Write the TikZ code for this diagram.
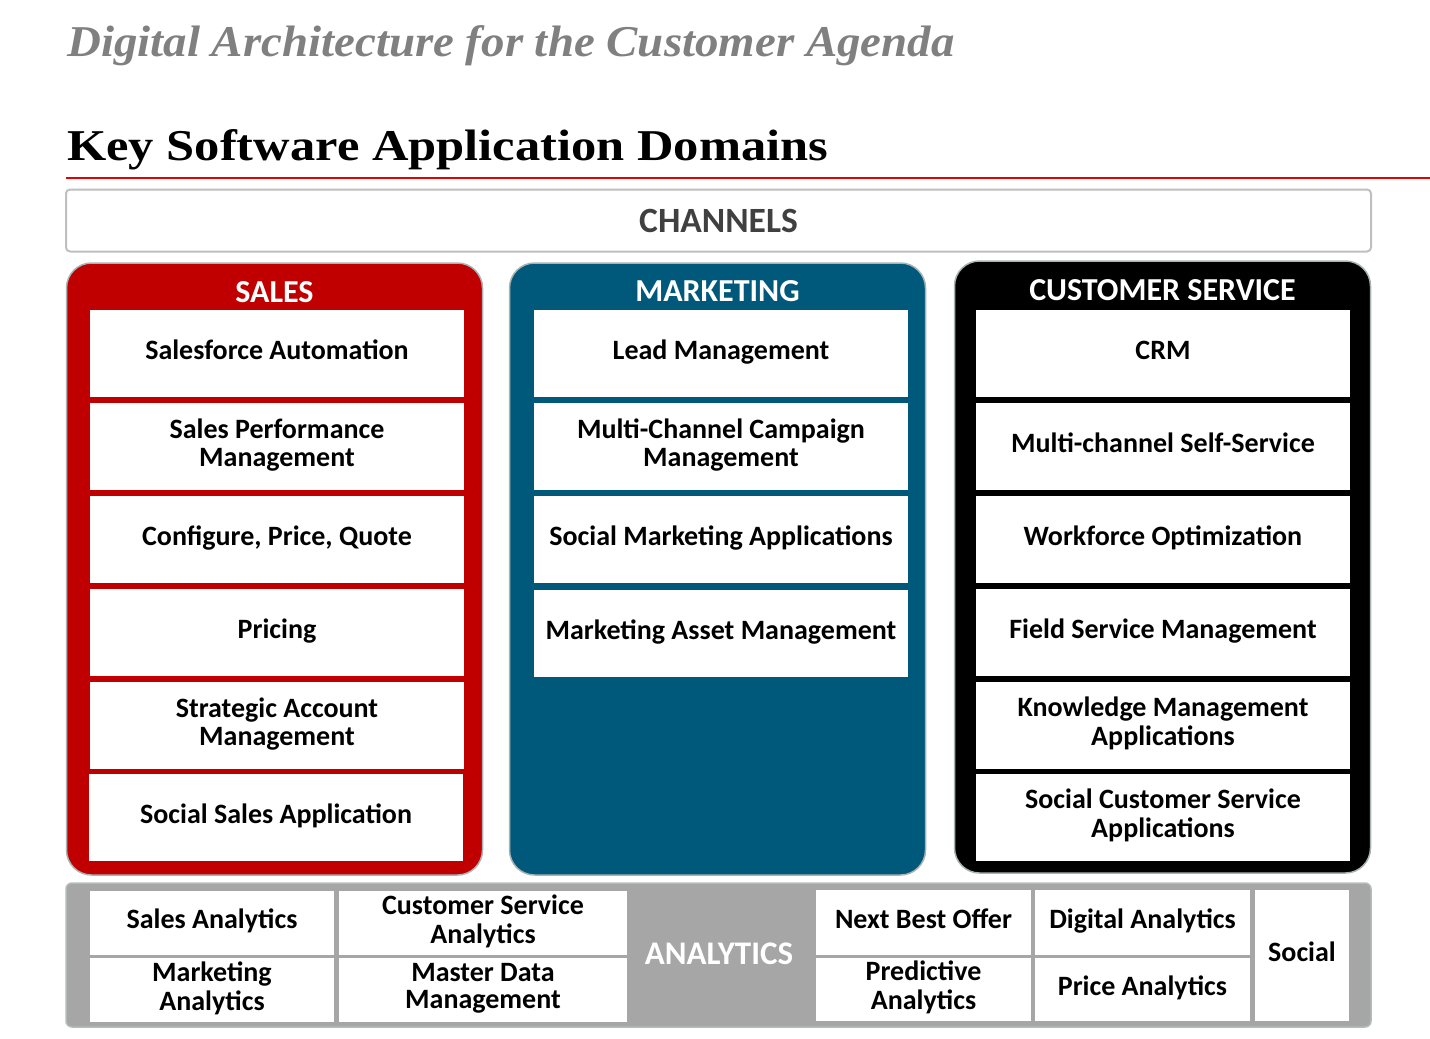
\documentclass[tikz,border=0pt]{standalone}
\usepackage{fontspec}
\setmainfont{Carlito}
\newfontfamily\titleserif{Liberation Serif}
\definecolor{salesred}{HTML}{C00000}
\definecolor{mkteal}{HTML}{00587A}
\definecolor{panelbd}{HTML}{A9B3B3}
\definecolor{anagray}{HTML}{A6A6A6}
\definecolor{anabd}{HTML}{B3BBBB}
\definecolor{chgray}{HTML}{BFBFBF}
\definecolor{titlegray}{HTML}{808080}
\definecolor{chtext}{HTML}{404040}
\definecolor{linered}{HTML}{E80000}
\tikzset{
  panel/.style={draw=panelbd, line width=1.5pt, rounded corners=25pt, minimum width=416pt, minimum height=612pt, inner sep=0pt},
  phead/.style={text=white, font=\fontsize{32}{34}\selectfont\bfseries, inner sep=0pt},
  appbox/.style={fill=white, minimum width=374pt, minimum height=87pt, inner sep=0pt, align=center, font=\fontsize{28}{28}\selectfont\bfseries},
  cell/.style={fill=white, inner sep=0pt, align=center, font=\fontsize{28}{27}\selectfont\bfseries},
}
\begin{document}
\begin{tikzpicture}[x=1pt,y=-1pt]
\useasboundingbox (0,0) rectangle (1430,1039);
% titles
\node[anchor=base west, inner sep=0pt, text=titlegray, font=\titleserif\fontsize{44}{48}\selectfont\bfseries\itshape] (title) at (67,56) {\scalebox{1.066}[1]{Digital Architecture for the Customer Agenda}};
\node[anchor=base west, inner sep=0pt, text=black, font=\titleserif\fontsize{44}{48}\selectfont\bfseries] (subtitle) at (67,160) {\scalebox{1.148}[1]{Key Software Application Domains}};
\coordinate (ruleL) at (66,176.5);
\coordinate (ruleR) at (1430,178.5);
\fill[fill=linered] (ruleL) rectangle (ruleR);
% channels
\node[draw=chgray, line width=2pt, rounded corners=4pt, fill=white, minimum width=1305pt, minimum height=62pt, inner sep=0pt, text=chtext, font=\fontsize{35.5}{38}\selectfont\bfseries] (channels) at (718.5,220.5) {CHANNELS};
% panels
\node[panel, fill=salesred] (sales) at (274.5,569) {};
\node[panel, fill=mkteal] (mkt) at (717.5,569) {};
\node[panel, fill=black] (cs) at (1162.5,567) {};
\node[phead] (salesH) at (274.5,292.5) {SALES};
\node[phead] (mktH) at (717.5,291) {MARKETING};
\node[phead] (csH) at (1162.5,290) {CUSTOMER SERVICE};
% sales boxes
\node[appbox] (s1) at (277,353.5) {\strut Salesforce Automation};
\node[appbox] (s2) at (277,446.5) {\strut Sales Performance\\\strut Management};
\node[appbox] (s3) at (277,539.5) {\strut Configure, Price, Quote};
\node[appbox] (s4) at (277,632.5) {\strut Pricing};
\node[appbox] (s5) at (277,725.5) {\strut Strategic Account\\\strut Management};
\node[appbox] (s6) at (276,817.5) {\strut Social Sales Application};
% marketing boxes
\node[appbox] (m1) at (721,353.5) {\strut Lead Management};
\node[appbox] (m2) at (721,446.5) {\strut Multi-Channel Campaign\\\strut Management};
\node[appbox] (m3) at (721,539.5) {\strut Social Marketing Applications};
\node[appbox] (m4) at (721,633.5) {\strut Marketing Asset Management};
% customer service boxes
\node[appbox] (c1) at (1163,353.5) {\strut CRM};
\node[appbox] (c2) at (1163,446.5) {\strut Multi-channel Self-Service};
\node[appbox] (c3) at (1163,539.5) {\strut Workforce Optimization};
\node[appbox] (c4) at (1163,632.5) {\strut Field Service Management};
\node[appbox] (c5) at (1163,725.5) {\strut Knowledge Management\\\strut Applications};
\node[appbox] (c6) at (1163,817.5) {\strut Social Customer Service\\\strut Applications};
% analytics
\node[draw=anabd, line width=1.5pt, fill=anagray, rounded corners=6pt, minimum width=1305pt, minimum height=144pt, inner sep=0pt] (ana) at (718.5,955) {};
\node[text=white, font=\fontsize{33}{36}\selectfont\bfseries, inner sep=0pt] (anaH) at (719,954) {ANALYTICS};
\node[cell, minimum width=244pt, minimum height=64pt] (sa) at (212,923) {\strut Sales Analytics};
\node[cell, minimum width=288pt, minimum height=64pt] (csa) at (483,923) {\strut Customer Service\\\strut Analytics};
\node[cell, minimum width=244pt, minimum height=64pt] (ma) at (212,990) {\strut Marketing\\\strut Analytics};
\node[cell, minimum width=288pt, minimum height=64pt] (mdm) at (483,990) {\strut Master Data\\\strut Management};
\node[cell, minimum width=215pt, minimum height=65pt] (nbo) at (923.5,922.5) {\strut Next Best Offer};
\node[cell, minimum width=215pt, minimum height=65pt] (da) at (1142.5,922.5) {\strut Digital Analytics};
\node[cell, minimum width=215pt, minimum height=63pt] (pa) at (923.5,989.5) {\strut Predictive\\\strut Analytics};
\node[cell, minimum width=215pt, minimum height=63pt] (pra) at (1142.5,989.5) {\strut Price Analytics};
\node[cell, minimum width=94pt, minimum height=131pt] (soc) at (1302,955.5) {\strut Social};
\end{tikzpicture}
\end{document}
